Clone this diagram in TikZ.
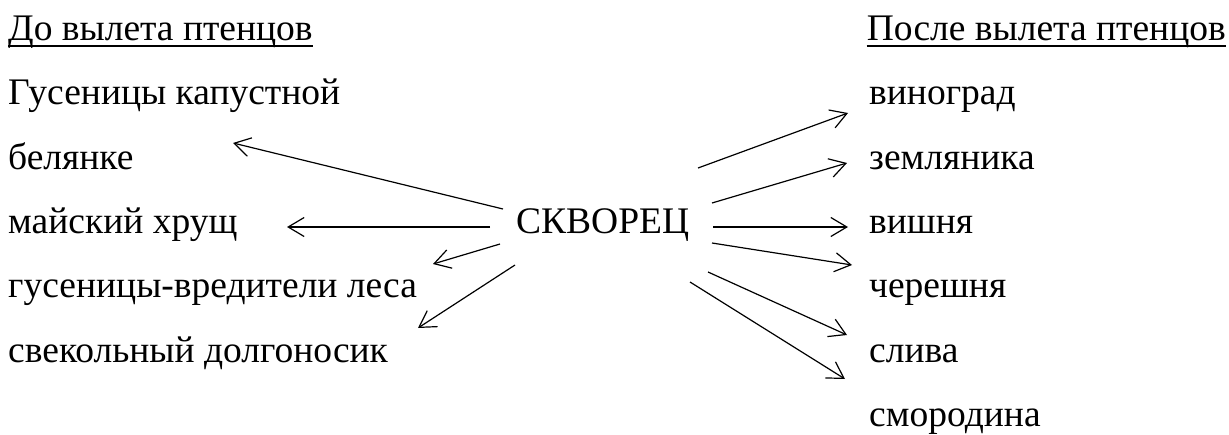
\documentclass[tikz,border=0pt]{standalone}
\usepackage{fontspec}
\setmainfont{Liberation Serif}
\usetikzlibrary{arrows.meta}
\begin{document}
\begin{tikzpicture}[x=1pt,y=-1pt,
  lbl/.style={inner sep=0pt, anchor=base west, font=\fontsize{37.5}{45}\selectfont},
  hdr/.style={lbl},
  uline/.style={line width=2pt},
  arr/.style={-{Straight Barb[length=16pt,width=19pt]}, line width=1.2pt}]
\useasboundingbox (0,0) rectangle (1229,434);
% left column
\node[hdr] (h1) at (8,40) {До вылета птенцов};
\node[lbl] (l1) at (8,104) {Гусеницы капустной};
\node[lbl] (l2) at (8,169) {белянке};
\node[lbl] (l3) at (8,233) {майский хрущ};
\node[lbl] (l4) at (8,297) {гусеницы-вредители леса};
\node[lbl] (l5) at (8,362) {свекольный долгоносик};
% centre
\node[lbl] (c) at (516,233) {СКВОРЕЦ};
% right column
\node[hdr, anchor=base east] (h2) at (1226,40) {После вылета птенцов};
\node[lbl] (r1) at (869,104) {виноград};
\node[lbl] (r2) at (869,169) {земляника};
\node[lbl] (r3) at (869,233) {вишня};
\node[lbl] (r4) at (869,297) {черешня};
\node[lbl] (r5) at (869,362) {слива};
\node[lbl] (r6) at (869,426) {смородина};
% underlines
\draw[uline] ([yshift=-6pt]h1.base west) -- ([yshift=-6pt]h1.base east);
\draw[uline] ([yshift=-6pt]h2.base west) -- ([yshift=-6pt]h2.base east);
% arrow end points
\coordinate (sA) at (503,209); \coordinate (eA) at (233,143);
\coordinate (sB) at (490,227); \coordinate (eB) at (287,227);
\coordinate (sC) at (500,244); \coordinate (eC) at (433,264);
\coordinate (sD) at (515,265); \coordinate (eD) at (418,328);
\coordinate (sE) at (698,168); \coordinate (eE) at (848,113);
\coordinate (sF) at (712,203); \coordinate (eF) at (847,163);
\coordinate (sG) at (713,227); \coordinate (eG) at (848,227);
\coordinate (sH) at (712,243); \coordinate (eH) at (852,265);
\coordinate (sI) at (708,272); \coordinate (eI) at (847,335);
\coordinate (sJ) at (690,282); \coordinate (eJ) at (845,379);
\foreach \k in {A,B,C,D,E,F,G,H,I,J}
  \draw[arr] (s\k) -- (e\k);
\end{tikzpicture}
\end{document}
